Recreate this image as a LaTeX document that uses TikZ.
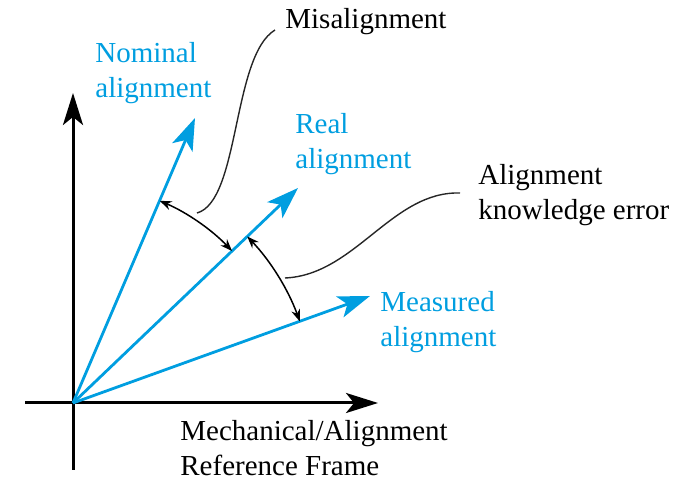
\documentclass[tikz,border=0pt]{standalone}
\usepackage{fontspec}
\setmainfont{Liberation Serif}
\usetikzlibrary{arrows.meta}
\definecolor{VecBlue}{RGB}{0,158,224}
\begin{document}
\begin{tikzpicture}[x=0.5pt,y=0.5pt,
    lbl/.style={font=\fontsize{14.5}{17.5}\selectfont,align=left,anchor=west,inner sep=0pt},
    blbl/.style={lbl,text=VecBlue},
    axis/.style={line width=1.5pt,-{Stealth[length=16pt,width=10pt,inset=4pt]}},
    vec/.style={VecBlue,line width=1.4pt,-{Stealth[length=16pt,width=11pt,inset=4pt]}},
    ang/.style={line width=0.75pt,{Stealth[length=6pt,width=4.5pt]}-{Stealth[length=6pt,width=4.5pt]}},
    lead/.style={line width=0.7pt,black!85}
  ]
  \useasboundingbox (0,0) rectangle (675,481);
  \coordinate (o) at (73,78);
  \coordinate (ybot) at (73,11);
  \coordinate (ytop) at (73,388);
  \coordinate (xl) at (25,78);
  \coordinate (xr) at (378,78);
  \coordinate (nomtip) at (195,363);
  \coordinate (realtip) at (298,293);
  \coordinate (meastip) at (370,185);
  \draw[axis] (ybot) -- (ytop);
  \draw[axis] (xl) -- (xr);
  \draw[vec] (o) -- (nomtip);
  \draw[vec] (o) -- (realtip);
  \draw[vec] (o) -- (meastip);
  \draw[ang] (o) ++(66.8:220) arc[start angle=66.8,end angle=43.7,radius=220];
  \draw[ang] (o) ++(43.7:241) arc[start angle=43.7,end angle=19.8,radius=241];

  \node[blbl] (nom)   at (95,408)  {Nominal\\alignment};
  \node[blbl] (real)  at (295,337) {Real\\alignment};
  \node[blbl] (meas)  at (380,159) {Measured\\alignment};
  \node[lbl]  (mis)   at (285,459) {Misalignment};
  \node[lbl]  (kerr)  at (478,286) {Alignment\\knowledge error};
  \node[lbl]  (frame) at (180,33)  {Mechanical/Alignment\\Reference Frame};

  \coordinate (misA) at (197,268);
  \coordinate (misB) at (275,451);
  \coordinate (kerrA) at (285,203);
  \coordinate (kerrB) at (460,288);
  \draw[lead] (misA) .. controls (240,280) and (232,425) .. (misB);
  \draw[lead] (kerrA) .. controls (355,206) and (392,290) .. (kerrB);
\end{tikzpicture}
\end{document}
